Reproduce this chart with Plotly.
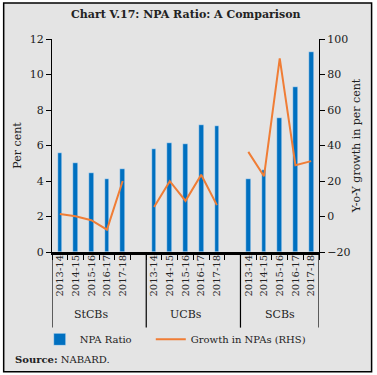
import plotly.graph_objects as go

groups = ["StCBs", "UCBs", "SCBs"]
years = ["2013-14", "2014-15", "2015-16", "2016-17", "2017-18"]
npa_stcbs = [5.55, 5.03, 4.46, 4.12, 4.68]
npa_ucbs = [5.79, 6.16, 6.10, 7.18, 7.10]
npa_scbs = [4.12, 4.62, 7.54, 9.29, 11.24]
growth_stcbs = [1.4, 0.1, -2.1, -7.4, 20.0]
growth_ucbs = [5.4, 19.9, 8.8, 23.5, 6.4]
growth_scbs = [36.4, 22.7, 89.1, 28.9, 31.2]

npa = [npa_stcbs, npa_ucbs, npa_scbs]
growth = [growth_stcbs, growth_ucbs, growth_scbs]

slot = len(years) + 1
bx, by, lx, ly, tv, tt = [], [], [], [], [], []
for gi, g in enumerate(groups):
    for yi, yr in enumerate(years):
        x = gi * slot + yi
        bx.append(x); by.append(npa[gi][yi])
        lx.append(x); ly.append(growth[gi][yi])
        tv.append(x); tt.append(yr)
    lx.append(None); ly.append(None)
xmin, xmax = -0.5, (len(groups) - 1) * slot + len(years) - 0.5

FONT = "DejaVu Serif"
BLUE = "#0070C0"
ORANGE = "#F07D35"
TXT = "#222"
BG = "#E4E4E4"

fig = go.Figure()
fig.add_trace(go.Bar(x=bx, y=by, name="NPA Ratio", marker_color=BLUE, width=0.3,
                     xaxis="x", yaxis="y", legend="legend"))
fig.add_trace(go.Scatter(x=lx, y=ly, name="Growth in NPAs (RHS)", mode="lines",
                         line=dict(color=ORANGE, width=2), connectgaps=False,
                         xaxis="x", yaxis="y2", legend="legend2"))
fig.add_trace(go.Scatter(x=[tv[0]], y=[0], mode="markers", marker_opacity=0,
                         showlegend=False, hoverinfo="skip", xaxis="x2", yaxis="y"))

boundaries = [xmin + i for i in range(int(xmax - xmin) + 1)]

bx0, bx1, by0, by1 = -0.181, 1.197, -0.5617, 1.1686
shapes = [
    dict(type="rect", xref="paper", yref="paper", x0=bx0, x1=bx1, y0=by0, y1=by1,
         fillcolor=BG, line=dict(color="black", width=1.5), layer="below"),
]
for gi in range(len(groups) + 1):
    xs = xmin + gi * slot if gi < len(groups) else xmax
    shapes.append(dict(type="line", xref="x", yref="paper", x0=xs, x1=xs, y0=0, y1=-0.355,
                       line=dict(color="black", width=1.2)))

annotations = []
for gi, g in enumerate(groups):
    annotations.append(dict(x=gi * slot + (len(years) - 1) / 2, y=-0.293, xref="x", yref="paper",
                            yanchor="middle", text=g, showarrow=False,
                            font=dict(family=FONT, size=11, color=TXT)))
annotations.append(dict(x=0.5, y=1.114, xref="paper", yref="paper", xanchor="center",
                        yanchor="middle",
                        text="<b>Chart V.17: NPA Ratio: A Comparison</b>", showarrow=False,
                        font=dict(family=FONT, size=11, color=TXT)))
annotations.append(dict(x=-0.147, y=-0.507, xref="paper", yref="paper", xanchor="left",
                        yanchor="middle",
                        text="<b>Source:</b> NABARD.", showarrow=False,
                        font=dict(family=FONT, size=10, color=TXT)))

fig.update_layout(
    width=377, height=375,
    margin=dict(l=52, r=58, t=39, b=123, autoexpand=False),
    paper_bgcolor="white", plot_bgcolor="rgba(0,0,0,0)",
    font=dict(family=FONT, size=11, color=TXT),
    showlegend=True,
    legend=dict(orientation="h", x=-0.046, xanchor="left", y=-0.41, yanchor="middle",
                bgcolor="rgba(0,0,0,0)", font=dict(family=FONT, size=10, color=TXT)),
    legend2=dict(orientation="h", x=0.37, xanchor="left", y=-0.41, yanchor="middle",
                 bgcolor="rgba(0,0,0,0)", font=dict(family=FONT, size=10, color=TXT)),
    bargap=0,
    xaxis=dict(range=[xmin, xmax], tickvals=boundaries, showticklabels=False,
               ticks="outside", ticklen=5, tickcolor="black", showline=True,
               linecolor="black", linewidth=3, showgrid=False, zeroline=False, automargin=False),
    xaxis2=dict(range=[xmin, xmax], overlaying="x", anchor="y", side="bottom",
                tickvals=tv, ticktext=tt, tickangle=-90, ticks="", showline=False,
                showgrid=False, zeroline=False, automargin=False,
                tickfont=dict(family=FONT, size=10, color=TXT)),
    yaxis=dict(range=[0, 12], dtick=2, ticks="outside", ticklen=5, tickcolor="black",
               showline=True, linecolor="black", linewidth=1, showgrid=False, zeroline=False,
               automargin=False,
               title=dict(text="Per cent", font=dict(family=FONT, size=11, color=TXT), standoff=5),
               tickfont=dict(family=FONT, size=11, color=TXT)),
    yaxis2=dict(range=[-20, 100], dtick=20, overlaying="y", side="right", anchor="x",
                ticks="outside", ticklen=5, tickcolor="black", showline=True,
                linecolor="black", linewidth=1, showgrid=False, zeroline=False,
                automargin=False,
                title=dict(text="Y-o-Y growth in per cent", font=dict(family=FONT, size=11, color=TXT), standoff=2),
                tickfont=dict(family=FONT, size=11, color=TXT)),
    shapes=shapes, annotations=annotations,
)

fig.write_html("out.html", config={"displayModeBar": False})
with open("out.html", encoding="utf-8") as f:
    html = f.read()
html = html.replace("<body>", '<body style="margin:0;padding:0;overflow:hidden">', 1)
with open("out.html", "w", encoding="utf-8") as f:
    f.write(html)
